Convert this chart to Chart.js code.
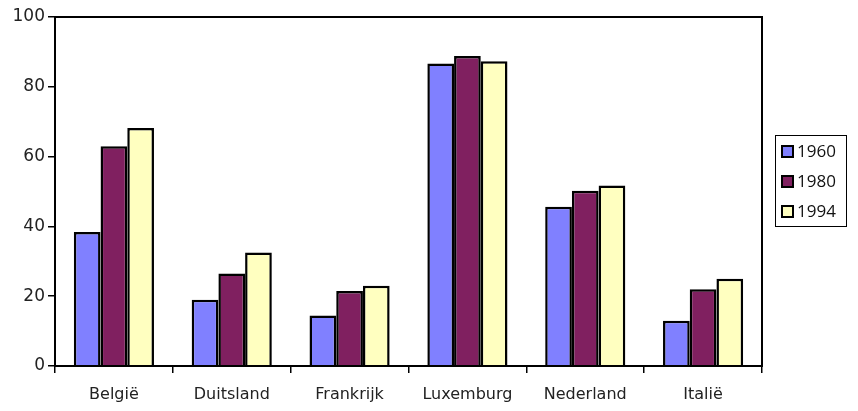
<!DOCTYPE html>
<html><head><meta charset="utf-8">
<script src="https://cdn.jsdelivr.net/npm/chart.js@4"></script>
<style>html,body{margin:0;padding:0;background:#fff}#w{width:858px;height:411px}</style>
</head><body><div id="w"><canvas id="c"></canvas></div>
<script>
const categories = ["België","Duitsland","Frankrijk","Luxemburg","Nederland","Italië"];
const s1960 = [38.4, 19, 14.5, 86.7, 45.6, 13];
const s1980 = [63, 26.5, 21.5, 88.8, 50.2, 22];
const s1994 = [68.2, 32.5, 23, 87.3, 51.7, 25];
const yTicks = [0,20,40,60,80,100];
const seriesNames = ["1960","1980","1994"];
const colors = ["#8080FF","#802060","#FFFFC0"];

const frame = {
  id:'frame',
  afterDraw(chart){
    const {ctx, chartArea:a} = chart;
    ctx.save();
    ctx.strokeStyle='#000'; ctx.lineWidth=2;
    ctx.strokeRect(a.left, a.top, a.right-a.left, a.bottom-a.top);
    // legend
    const lx=775, ly=135, lw=71, lh=91;
    ctx.lineWidth=1; ctx.strokeStyle='#000';
    ctx.strokeRect(lx+0.5, ly+0.5, lw, lh);
    ctx.font='17px "Open Sans", sans-serif';
    ctx.textBaseline='middle'; ctx.fillStyle='#111';
    chart.data.datasets.forEach((d,i)=>{
      const cy = ly + 16 + i*30;
      ctx.fillStyle=d.backgroundColor;
      ctx.fillRect(lx+7, cy-5, 11, 11);
      ctx.lineWidth=2; ctx.strokeStyle='#000';
      ctx.strokeRect(lx+7, cy-5, 11, 11);
      ctx.fillStyle='#111';
      ctx.fillText(d.label, lx+22, cy+1);
    });
    ctx.restore();
  }
};

new Chart(document.getElementById('c'), {
  type:'bar',
  data:{
    labels:categories,
    datasets:[s1960,s1980,s1994].map((v,i)=>({
      label:seriesNames[i], data:v, backgroundColor:colors[i],
      borderColor:'#000', borderWidth:2.5, borderSkipped:'bottom',
      categoryPercentage:0.68, barPercentage:1
    }))
  },
  options:{
    responsive:true, maintainAspectRatio:false, animation:false,
    layout:{padding:{top:17,right:96,left:0,bottom:0}},
    plugins:{legend:{display:false}, tooltip:{enabled:false}},
    scales:{
      x:{
        grid:{display:true, drawOnChartArea:false, drawTicks:true, tickLength:7, color:'#000', lineWidth:1.5},
        border:{display:true,color:'#000',width:2},
        ticks:{color:'#222', font:{family:'"DejaVu Sans", sans-serif', size:16}, padding:12},
        afterFit(s){ s.height=45; }
      },
      y:{
        min:0, max:100,
        afterBuildTicks(s){ s.ticks = yTicks.map(v=>({value:v})); },
        grid:{display:true, drawOnChartArea:false, drawTicks:true, tickLength:7, color:'#000', lineWidth:1.5},
        border:{display:true,color:'#000',width:2},
        ticks:{color:'#222', font:{family:'"DejaVu Sans", sans-serif', size:17}, padding:3},
        afterFit(s){ s.width=55; }
      }
    }
  },
  plugins:[frame]
});
</script></body></html>
